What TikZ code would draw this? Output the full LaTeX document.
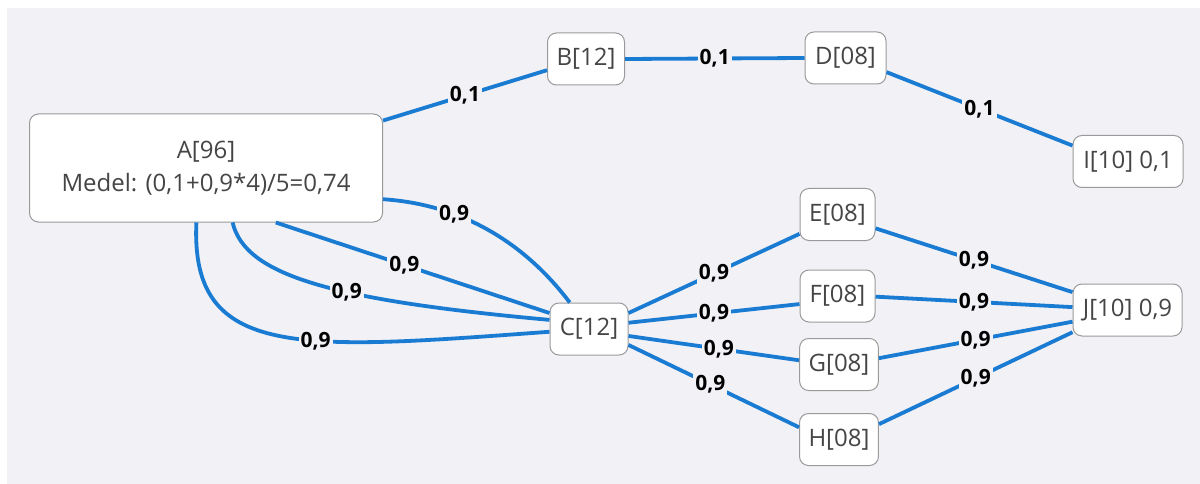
\documentclass[tikz,border=0pt]{standalone}
\usepackage{fontspec}
\setmainfont{Open Sans}
\definecolor{bg}{HTML}{F2F1F6}
\definecolor{edgeblue}{HTML}{1A7BD2}
\definecolor{nodeb}{HTML}{9A9A9A}
\definecolor{ntext}{HTML}{454545}
\begin{document}
\begin{tikzpicture}[x=1pt,y=-1pt,
  box/.style={draw=nodeb, line width=1pt, fill=white, rounded corners=9pt,
    minimum height=52pt, inner xsep=9pt, text=ntext,
    font=\fontsize{24}{33}\selectfont},
  lbl/.style={fill=bg, inner sep=2pt, text=black,
    font=\fontsize{21}{24}\selectfont\bfseries},
  link/.style={draw=edgeblue, line width=3.8pt}]
\useasboundingbox (0,0) rectangle (1200,484);
\fill[white] (0,0) rectangle (1200,484);
\fill[bg] (7,8) rectangle (1200,484);

\node[box, minimum width=353pt, minimum height=108pt, align=center] (A) at (206,168) {A[96]\\Medel: (0,1+0,9*4)/5=0,74};
\node[box, minimum width=77pt] (B) at (586,59) {B[12]};
\node[box, minimum width=81pt] (D) at (845.5,58) {D[08]};
\node[box, minimum width=110pt] (I) at (1128,161.5) {I[10] 0,1};
\node[box, minimum width=78pt] (C) at (589,329) {C[12]};
\node[box, minimum width=75pt] (E) at (837.5,214.5) {E[08]};
\node[box, minimum width=75pt] (F) at (837.5,296) {F[08]};
\node[box, minimum width=78pt] (G) at (839,364.5) {G[08]};
\node[box, minimum width=78pt] (H) at (839,439.5) {H[08]};
\node[box, minimum width=109pt] (J) at (1127.5,310) {J[10] 0,9};

\draw[link] (A.15.8) -- node[lbl]{0,1} (B.196);
\draw[link] (B.east) -- node[lbl]{0,1} (D.west);
\draw[link] (D.-19) -- node[lbl]{0,1} (I.164);

\draw[link] (A.-10) .. controls (470,205) and (530,250) .. node[lbl,pos=0.3]{0,9} (C.126);
\draw[link] (A.-38) -- node[lbl,pos=0.47]{0,9} (C.158);
\draw[link] (A.-64) .. controls (245,275) and (330,300) .. node[lbl,pos=0.6]{0,9} (C.167);
\draw[link] (A.-100) .. controls (190,360) and (300,350) .. node[lbl,pos=0.6]{0,9} (C.184);

\draw[link] (C.22) -- node[lbl]{0,9} (E.207);
\draw[link] (C.9) -- node[lbl]{0,9} (F.192);
\draw[link] (C.-10) -- node[lbl,pos=0.53]{0,9} (G.174);
\draw[link] (C.-22) -- node[lbl,pos=0.48]{0,9} (H.163);

\draw[link] (E.-20) -- node[lbl]{0,9} (J.162);
\draw[link] (F.-1.5) -- node[lbl]{0,9} (J.177);
\draw[link] (G.9) -- node[lbl]{0,9} (J.192.5);
\draw[link] (H.21) -- node[lbl]{0,9} (J.202);
\end{tikzpicture}
\end{document}
